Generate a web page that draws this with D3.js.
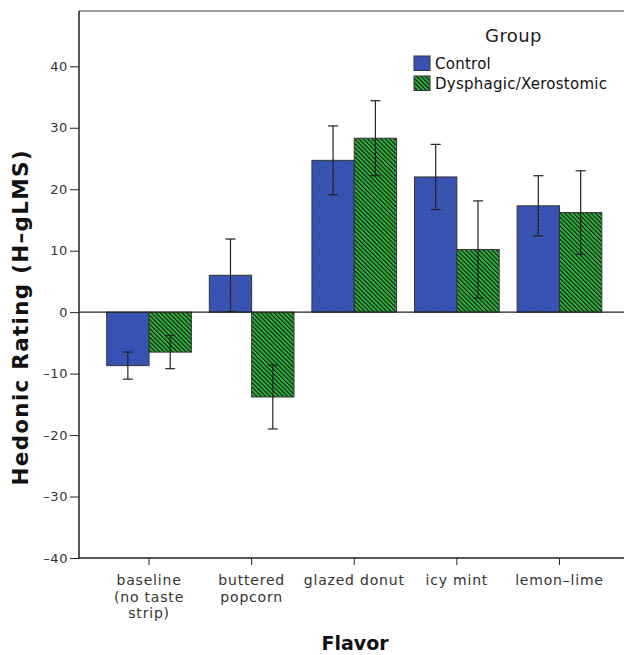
<!DOCTYPE html>
<html>
<head>
<meta charset="utf-8">
<script src="https://cdn.jsdelivr.net/npm/d3@7"></script>
<style>
  body { margin: 0; background: #fff; }
  svg { display: block; font-family: "DejaVu Sans", sans-serif; }
</style>
</head>
<body>
<div class="chart"></div>
<script>
const flavors = ["baseline\n(no taste\nstrip)", "buttered\npopcorn", "glazed donut", "icy mint", "lemon\u2013lime"];
const groups = ["Control", "Dysphagic/Xerostomic"];
const controlMean = [-8.7, 6.0, 24.7, 22.0, 17.3];
const controlErr = [2.2, 5.9, 5.6, 5.3, 4.9];
const dysMean = [-6.5, -13.8, 28.3, 10.2, 16.2];
const dysErr = [2.7, 5.2, 6.1, 7.9, 6.8];
const yTicks = [-40, -30, -20, -10, 0, 10, 20, 30, 40];

const W = 624, H = 655;
const mLeft = 79, mTop = 11, mBottom = 558, mRight = 629.5;

const svg = d3.select(".chart").append("svg")
    .attr("width", W)
    .attr("height", H);

const defs = svg.append("defs");
const dots = defs.append("pattern")
    .attr("id", "dots")
    .attr("patternUnits", "userSpaceOnUse")
    .attr("width", 3.2).attr("height", 3.2);
dots.append("rect").attr("width", 3.2).attr("height", 3.2).attr("fill", "#3d59bd");
dots.append("rect").attr("x", 0.3).attr("y", 0.3).attr("width", 1.1).attr("height", 1.1).attr("fill", "#273c90");
dots.append("rect").attr("x", 1.9).attr("y", 1.9).attr("width", 1.1).attr("height", 1.1).attr("fill", "#273c90");

const hatch = defs.append("pattern")
    .attr("id", "hatch")
    .attr("patternUnits", "userSpaceOnUse")
    .attr("width", 3.1).attr("height", 6)
    .attr("patternTransform", "rotate(-45)");
hatch.append("rect").attr("width", 3.1).attr("height", 6).attr("fill", "#30b23d");
hatch.append("rect").attr("x", 0).attr("width", 1.1).attr("height", 6).attr("fill", "#111");

const fills = ["url(#dots)", "url(#hatch)"];

const x = d3.scaleBand()
    .domain(flavors)
    .range([mLeft, mRight])
    .paddingInner(0.175)
    .paddingOuter(0.27);
const xs = d3.scaleBand().domain(groups).range([0, x.bandwidth()]);

const y = d3.scaleLinear()
    .domain([-40, 49])
    .range([mBottom, mTop]);

const rows = [];
flavors.forEach((f, i) => {
    rows.push({f: f, g: groups[0], m: controlMean[i], e: controlErr[i]});
    rows.push({f: f, g: groups[1], m: dysMean[i], e: dysErr[i]});
});

// frame top
svg.append("line")
    .attr("x1", mLeft).attr("x2", W)
    .attr("y1", mTop).attr("y2", mTop)
    .attr("stroke", "#777").attr("stroke-width", 1.5);

// bars
svg.selectAll("rect.bar")
    .data(rows)
    .enter()
    .append("rect")
    .attr("class", "bar")
    .attr("x", d => x(d.f) + xs(d.g))
    .attr("width", xs.bandwidth())
    .attr("y", d => y(Math.max(0, d.m)))
    .attr("height", d => Math.abs(y(d.m) - y(0)))
    .attr("fill", d => fills[groups.indexOf(d.g)])
    .attr("stroke", "#333")
    .attr("stroke-width", 1);

// zero line
svg.append("line")
    .attr("x1", mLeft).attr("x2", W)
    .attr("y1", y(0)).attr("y2", y(0))
    .attr("stroke", "#222").attr("stroke-width", 1.2);

// error bars
const eb = svg.selectAll("g.err")
    .data(rows)
    .enter()
    .append("g")
    .attr("class", "err")
    .attr("stroke", "#222")
    .attr("stroke-width", 1.2);
const cx = d => x(d.f) + xs(d.g) + xs.bandwidth() / 2;
eb.append("line")
    .attr("x1", cx).attr("x2", cx)
    .attr("y1", d => y(d.m + d.e)).attr("y2", d => y(d.m - d.e));
eb.append("line")
    .attr("x1", d => cx(d) - 5).attr("x2", d => cx(d) + 5)
    .attr("y1", d => y(d.m + d.e)).attr("y2", d => y(d.m + d.e));
eb.append("line")
    .attr("x1", d => cx(d) - 5).attr("x2", d => cx(d) + 5)
    .attr("y1", d => y(d.m - d.e)).attr("y2", d => y(d.m - d.e));

// y axis
const yAxis = svg.append("g")
    .attr("transform", `translate(${mLeft},0)`)
    .call(d3.axisLeft(y).tickValues(yTicks).tickSize(9).tickPadding(2).tickSizeOuter(0)
        .tickFormat(d => d < 0 ? "\u2013" + Math.abs(d) : d))
    .attr("font-family", "DejaVu Sans");
yAxis.select(".domain").attr("stroke", "#222").attr("stroke-width", 1.5)
    .attr("d", `M0,${mTop}V${mBottom}`);
yAxis.selectAll(".tick line").attr("stroke", "#222");
yAxis.selectAll(".tick text").attr("fill", "#333").attr("font-size", 13).attr("letter-spacing", 0.6);

// x axis
const xAxis = svg.append("g")
    .attr("transform", `translate(0,${mBottom})`)
    .call(d3.axisBottom(x).tickSize(7).tickSizeOuter(0).tickFormat(""))
    .attr("font-family", "DejaVu Sans");
xAxis.select(".domain").attr("stroke", "#222").attr("stroke-width", 1.5)
    .attr("d", `M${mLeft},0H${W}`);
xAxis.selectAll(".tick line").attr("stroke", "#222");
xAxis.selectAll(".tick").each(function(d) {
    const t = d3.select(this).append("text")
        .attr("fill", "#333")
        .attr("font-size", 14)
        .attr("letter-spacing", 0.8)
        .attr("text-anchor", "middle")
        .attr("y", 27);
    d.split("\n").forEach((s, i) => {
        t.append("tspan").attr("x", 0).attr("dy", i ? 16.5 : 0).text(s);
    });
});

// axis titles
svg.append("text")
    .attr("x", 355).attr("y", 650)
    .attr("text-anchor", "middle")
    .attr("font-size", 19).attr("font-weight", "bold")
    .attr("fill", "#111")
    .text("Flavor");
svg.append("text")
    .attr("transform", "translate(28,318) rotate(-90)")
    .attr("text-anchor", "middle")
    .attr("font-size", 21.5).attr("font-weight", "bold")
    .attr("textLength", 335).attr("lengthAdjust", "spacing")
    .attr("fill", "#111")
    .text("Hedonic Rating (H\u2013gLMS)");

// legend
const lg = svg.append("g").attr("transform", "translate(414,0)");
lg.append("text")
    .attr("x", 99.5).attr("y", 42)
    .attr("text-anchor", "middle")
    .attr("font-size", 18).attr("letter-spacing", 0.4).attr("fill", "#222")
    .text("Group");
groups.forEach((g, i) => {
    lg.append("rect")
        .attr("x", 0).attr("y", 56 + i * 20)
        .attr("width", 16).attr("height", 14.5)
        .attr("fill", fills[i]).attr("stroke", "#333");
    lg.append("text")
        .attr("x", 21).attr("y", 69 + i * 20)
        .attr("font-size", 15).attr("letter-spacing", 0.25).attr("fill", "#111")
        .text(g);
});
</script>
</body>
</html>
